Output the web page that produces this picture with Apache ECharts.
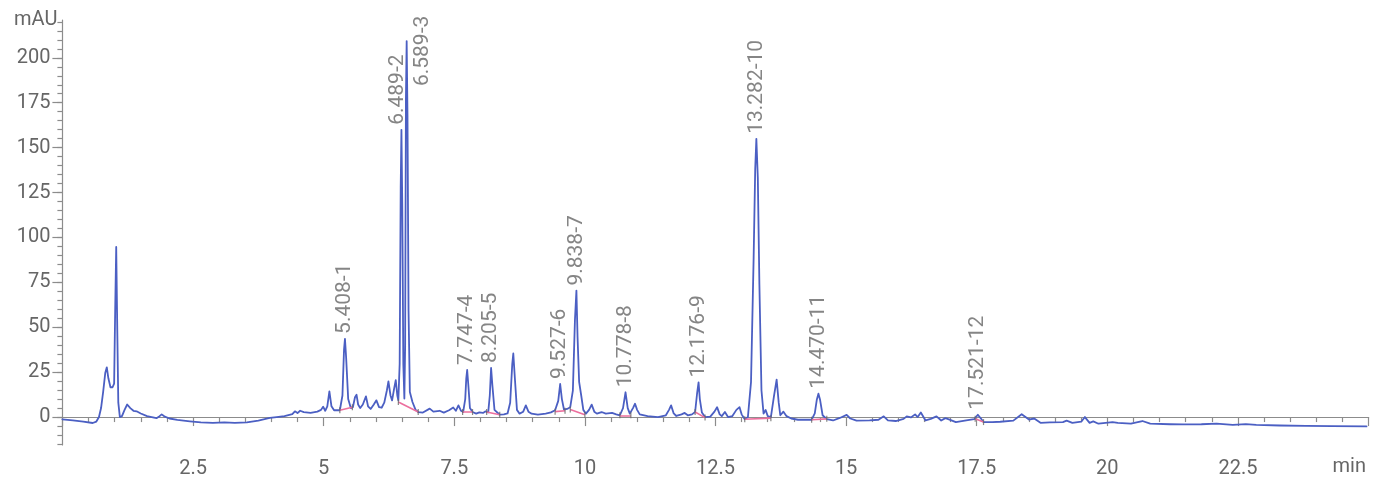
<!DOCTYPE html>
<html>
<head>
<meta charset="utf-8">
<script src="https://cdn.jsdelivr.net/npm/echarts@6/dist/echarts.min.js"></script>
<style>
  html, body { margin: 0; padding: 0; background: #fff; }
  #chart { width: 1375px; height: 480px; }
</style>
</head>
<body>
<div id="chart"></div>
<script>
// Detector trace: retention time (min), absorbance (mAU)
const traceTime = [
  0.00, 0.20, 0.40, 0.58, 0.65, 0.70, 0.74, 0.78, 0.82, 0.85, 0.88, 0.92, 0.96, 0.99, 1.01, 1.03, 1.05, 1.07, 1.10, 1.14,
  1.19, 1.24, 1.30, 1.36, 1.42, 1.50, 1.62, 1.80, 1.86, 1.90, 1.95, 2.05, 2.20, 2.44, 2.65, 2.88, 3.10, 3.30, 3.53, 3.75,
  3.97, 4.10, 4.25, 4.40, 4.45, 4.50, 4.55, 4.62, 4.75, 4.88, 4.95, 4.99, 5.03, 5.07, 5.11, 5.15, 5.20, 5.31, 5.36, 5.39,
  5.408, 5.43, 5.47, 5.52, 5.56, 5.60, 5.63, 5.66, 5.70, 5.75, 5.81, 5.85, 5.90, 5.96, 6.01, 6.06, 6.11, 6.16, 6.21, 6.24,
  6.28, 6.31, 6.35, 6.38, 6.41, 6.43, 6.455, 6.475, 6.489, 6.505, 6.525, 6.545, 6.56, 6.575, 6.589, 6.605, 6.625, 6.65, 6.70, 6.76,
  6.81, 6.90, 7.03, 7.10, 7.22, 7.30, 7.40, 7.48, 7.53, 7.58, 7.63, 7.67, 7.71, 7.73, 7.747, 7.77, 7.80, 7.85, 7.92, 7.98,
  8.05, 8.10, 8.15, 8.18, 8.205, 8.23, 8.27, 8.37, 8.45, 8.52, 8.57, 8.61, 8.63, 8.66, 8.70, 8.75, 8.82, 8.87, 8.92, 8.98,
  9.10, 9.25, 9.35, 9.43, 9.49, 9.527, 9.56, 9.60, 9.66, 9.72, 9.77, 9.81, 9.838, 9.86, 9.89, 9.93, 9.97, 10.02, 10.08, 10.13,
  10.18, 10.23, 10.32, 10.40, 10.52, 10.60, 10.67, 10.73, 10.778, 10.82, 10.86, 10.92, 10.96, 11.00, 11.05, 11.20, 11.40, 11.55, 11.61, 11.65,
  11.70, 11.75, 11.85, 11.91, 11.97, 12.05, 12.11, 12.15, 12.176, 12.20, 12.24, 12.30, 12.40, 12.48, 12.53, 12.58, 12.62, 12.68, 12.74, 12.82,
  12.90, 12.96, 13.00, 13.06, 13.12, 13.18, 13.23, 13.26, 13.282, 13.31, 13.34, 13.38, 13.42, 13.46, 13.50, 13.56, 13.62, 13.67, 13.71, 13.74,
  13.80, 13.86, 13.95, 14.08, 14.25, 14.34, 14.40, 14.44, 14.47, 14.50, 14.55, 14.63, 14.75, 14.88, 15.01, 15.08, 15.20, 15.45, 15.62, 15.72,
  15.80, 15.95, 16.10, 16.16, 16.24, 16.32, 16.37, 16.43, 16.52, 16.62, 16.73, 16.82, 16.90, 16.98, 17.10, 17.30, 17.45, 17.521, 17.58, 17.63,
  17.80, 17.95, 18.20, 18.36, 18.50, 18.60, 18.72, 18.90, 19.15, 19.22, 19.33, 19.50, 19.57, 19.66, 19.73, 19.83, 20.10, 20.20, 20.45, 20.67,
  20.82, 21.20, 21.45, 21.80, 22.09, 22.40, 22.65, 22.85, 23.30, 23.80, 24.30, 24.96
];
const traceSignal = [
  -1.3, -1.8, -2.5, -3.3, -2.5, 0, 5, 14, 24.5, 27.7, 21.6, 16.6, 16.6, 18.6, 59.2, 94.7, 49.3, 8, 0, 0.5,
  4, 7, 5, 3.5, 3.2, 2, 0.5, -0.6, 0.5, 1.5, 0.4, -0.8, -1.6, -2.4, -3, -3.2, -3, -3.2, -3, -2,
  -0.5, 0, 0.5, 1.6, 3.2, 2.2, 3.5, 2.8, 2.3, 3, 4, 5.8, 3.5, 6, 14.3, 6, 3.8, 3.8, 12, 37.4,
  43.5, 33.4, 10, 5, 5.5, 11, 12.4, 7, 5, 7, 11.5, 6, 4.5, 7, 9.3, 5.5, 5.2, 8, 14.8, 19.9,
  12, 9.3, 16, 20.6, 12, 9.3, 29.5, 128.3, 159.9, 118.4, 29.5, 10.3, 39.4, 177.7, 209.3, 167.8, 59.2, 14, 8.4, 4,
  2.8, 2.5, 4.7, 3, 3.5, 2.5, 3.8, 5.3, 3.5, 6.5, 3.5, 2.8, 10, 21.6, 26.2, 17.6, 5, 2.8, 1.9, 2.6,
  2.3, 3.2, 2.6, 12, 27.3, 17.6, 4, 1.3, 1.5, 2, 8, 29.5, 35.4, 21.6, 4, 1.9, 3, 6.5, 3, 1.9,
  1.3, 1.9, 2.6, 3.8, 9, 18.4, 10, 4.2, 4.5, 5.5, 14.7, 54.2, 70.4, 44.3, 19.6, 12, 4, 1.9, 4, 6.9,
  3, 1.9, 2.8, 1.9, 2.3, 1.5, 1, 5, 13.8, 5, 1.9, 5, 7.4, 4, 1.5, 0.5, 0, 1, 4, 6.5,
  2, 0.6, 1.5, 2.3, 1, 1.5, 2.8, 13.8, 19.3, 10, 2.5, 0, 0.2, 3, 5.5, 1.5, 0.5, 2.8, 0, 0.5,
  4, 5.5, 1.5, -1.2, 0, 19.6, 88.8, 138.1, 154.9, 133.2, 74, 14.8, 1.9, 3.9, 0.5, 0, 11.8, 20.8, 8, 1,
  3, 0.5, -0.8, -1.5, -1.5, -1.5, 2, 9.8, 13.0, 9.8, 1, -1.2, -1.9, -0.5, 1.2, -0.8, -2, -1.9, -1.5, 0.4,
  -1.8, -2.2, -1, 0.4, -0.2, 1.5, 0, 2.5, -1.9, -1, 0.4, -1.9, -0.6, -1.4, -2.8, -1.8, -1.2, 1.3, -0.8, -2.8,
  -2.8, -2.6, -2, 1.6, -1.4, -0.8, -3.2, -3, -2.8, -2, -3.2, -2.6, 0, -3.2, -2.4, -3.7, -2.8, -3.2, -3.7, -2.2,
  -3.7, -4, -4.1, -4, -3.7, -4.3, -3.9, -4.3, -4.7, -4.9, -5, -5.2
];

// Integrated peaks: retention time, apex height, peak number
const peakTimes   = [5.408, 6.489, 6.589, 7.747, 8.205, 9.527, 9.838, 10.778, 12.176, 13.282, 14.470, 17.521];
const peakHeights = [43.5, 159.9, 209.3, 26.2, 27.3, 18.4, 70.4, 13.8, 19.3, 154.9, 13.0, 1.3];
const peakNumbers = [1, 2, 3, 4, 5, 6, 7, 8, 9, 10, 11, 12];

// Integration baselines (start/end time and level)
const baseStartTime  = [5.31, 6.43, 7.66, 8.12, 9.43, 9.72, 10.67, 12.11, 13.06, 14.34, 17.47];
const baseStartLevel = [3.8, 8.4, 2.8, 2.8, 3.0, 4.2, 1.0, 2.8, -1.2, -1.5, -0.9];
const baseEndTime    = [5.55, 6.81, 7.85, 8.37, 9.62, 10.00, 10.88, 12.30, 13.56, 14.63, 17.63];
const baseEndLevel   = [5.5, 2.8, 2.8, 1.3, 3.5, 1.3, 1.0, -0.3, -0.6, -1.0, -2.8];

// Axis settings
const xTickLabels = [2.5, 5, 7.5, 10, 12.5, 15, 17.5, 20, 22.5];
const yTickLabels = [0, 25, 50, 75, 100, 125, 150, 175, 200];
const yMinorTicks = [-15, -10, -5, 0, 5, 10, 15, 20, 25, 30, 35, 40, 45, 50, 55, 60, 65, 70, 75, 80, 85, 90, 95, 100,
  105, 110, 115, 120, 125, 130, 135, 140, 145, 150, 155, 160, 165, 170, 175, 180, 185, 190, 195, 200, 205, 210, 215, 220];
const xUnit = 'min';
const yUnit = 'mAU';

const TEXT = '#666666';
const AXIS = '#8c8c8c';
const FONT = 'Roboto';
const Y_MIN = -15.5;
const Y_MAX = 221;

const trace = traceTime.map((t, i) => [t, traceSignal[i]]);
const peaks = peakTimes.map((t, i) => {
  const item = { value: [t, peakHeights[i]], name: t.toFixed(3) + '-' + peakNumbers[i] };
  if (peakNumbers[i] === 2) item.label = { offset: [0, -4] };
  if (peakNumbers[i] === 3) item.label = { offset: [-50, 16] };
  return item;
});
const baselines = baseStartTime.map((t, i) => ({
  coords: [[t, baseStartLevel[i]], [baseEndTime[i], baseEndLevel[i]]]
}));
const baseMarks = [];
baseStartTime.forEach((t, i) => {
  baseMarks.push([t, baseStartLevel[i]]);
  baseMarks.push([baseEndTime[i], baseEndLevel[i]]);
});

const chart = echarts.init(document.getElementById('chart'), null, { renderer: 'canvas' });
chart.setOption({
  animation: false,
  backgroundColor: '#ffffff',
  grid: { left: 62.4, right: 6.4, top: 20.1, height: 424.8, containLabel: false },
  // x-axis unit sits under the right end of the axis
  graphic: [{
    type: 'text',
    right: 9,
    top: 457,
    style: { text: xUnit, fill: TEXT, fontFamily: FONT, fontSize: 20 }
  }],
  xAxis: {
    type: 'value', min: 0, max: 25, interval: 2.5,
    axisLine: { lineStyle: { color: AXIS, width: 1.2 } },
    axisTick: { length: 9, lineStyle: { color: AXIS, width: 1.2 } },
    minorTick: { show: true, splitNumber: 5, length: 5, lineStyle: { color: AXIS, width: 1.2 } },
    splitLine: { show: false },
    axisLabel: {
      color: TEXT, fontFamily: FONT, fontSize: 20, margin: 14,
      customValues: xTickLabels,
      formatter: v => String(v)
    }
  },
  yAxis: [{
    type: 'value', min: Y_MIN, max: Y_MAX,
    name: yUnit, nameLocation: 'end', nameGap: 0,
    nameTextStyle: { color: TEXT, fontFamily: FONT, fontSize: 20, align: 'right', verticalAlign: 'middle', padding: [0, 5, 0, 0] },
    axisLine: { show: true, lineStyle: { color: AXIS, width: 1.2 } },
    axisTick: { show: true, length: 10, customValues: yTickLabels, lineStyle: { color: AXIS, width: 1.2 } },
    splitLine: { show: false },
    axisLabel: { color: TEXT, fontFamily: FONT, fontSize: 20, margin: 12, customValues: yTickLabels }
  }, {
    type: 'value', min: Y_MIN, max: Y_MAX, position: 'left', offset: 0,
    axisLine: { show: false },
    axisTick: { show: true, length: 5, customValues: yMinorTicks, lineStyle: { color: AXIS, width: 1.2 } },
    axisLabel: { show: false },
    splitLine: { show: false }
  }],
  series: [{
    type: 'line',
    data: trace,
    showSymbol: false,
    smooth: false,
    lineStyle: { color: '#4b5fc3', width: 1.8, join: 'round', cap: 'round' },
    z: 3
  }, {
    type: 'lines',
    coordinateSystem: 'cartesian2d',
    data: baselines,
    lineStyle: { color: '#ec6f9e', width: 1.6, opacity: 1 },
    z: 4
  }, {
    type: 'scatter',
    data: baseMarks,
    symbol: 'rect',
    symbolSize: [1.2, 6],
    itemStyle: { color: '#666' },
    z: 5
  }, {
    type: 'scatter',
    data: peaks,
    symbolSize: 0,
    label: {
      show: true,
      position: 'top',
      distance: 5,
      rotate: 90,
      align: 'left',
      verticalAlign: 'middle',
      color: TEXT,
      fontFamily: FONT,
      fontSize: 21,
      formatter: p => p.name
    },
    z: 6
  }]
});
</script>
</body>
</html>
